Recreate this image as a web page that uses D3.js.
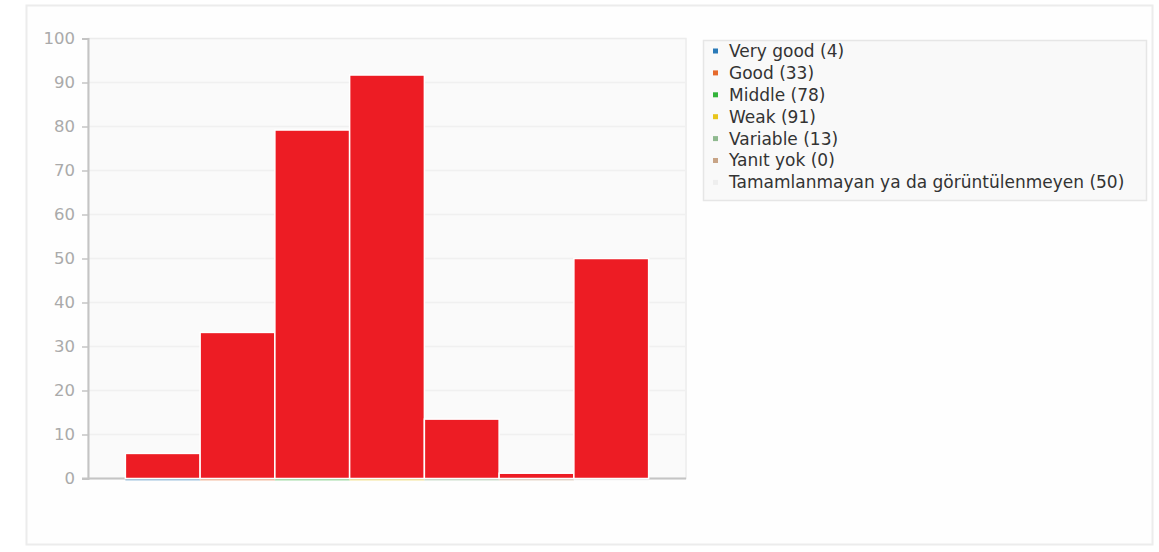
<!DOCTYPE html>
<html>
<head>
<meta charset="utf-8">
<script src="https://cdn.jsdelivr.net/npm/d3@7"></script>
<style>
  html, body { margin: 0; padding: 0; background: #ffffff; }
  svg { display: block; font-family: "DejaVu Sans", sans-serif; }
</style>
</head>
<body>
<svg id="chart" width="1159" height="552"></svg>
<script>
// ---- data ----
const categories = ["Very good", "Good", "Middle", "Weak", "Variable", "Yanıt yok", "Tamamlanmayan ya da görüntülenmeyen"];
const legendCounts = [4, 33, 78, 91, 13, 0, 50];
const barValues = [5.7, 33.2, 79.2, 91.7, 13.5, 1.2, 50];
const seriesColors = ["#2a7ab8", "#e66a2c", "#33b43a", "#e8c51c", "#8fb98f", "#c8a486", "#eeeeee"];
const yTicks = [0, 10, 20, 30, 40, 50, 60, 70, 80, 90, 100];
const barColor = "#ed1c24";

const svg = d3.select("#chart");

// outer panel
svg.append("rect")
  .attr("x", 26.5).attr("y", 5.5).attr("width", 1126).attr("height", 539)
  .attr("fill", "#fefefe").attr("stroke", "#ececec").attr("stroke-width", 2);

const plot = { left: 88, right: 686, top: 38.5, bottom: 478.5 };

// plot background
svg.append("rect")
  .attr("x", plot.left).attr("y", plot.top)
  .attr("width", plot.right - plot.left).attr("height", plot.bottom - plot.top)
  .attr("fill", "#fafafa").attr("stroke", "#ececec").attr("stroke-width", 1.5);

const x = d3.scaleBand().domain(categories).range([plot.left, plot.right]).paddingInner(0).paddingOuter(0.5);
const y = d3.scaleLinear().domain([0, 100]).range([plot.bottom, plot.top]);

// gridlines
svg.append("g").selectAll("line").data(yTicks.filter(d => d > 0 && d < 100)).join("line")
  .attr("x1", plot.left).attr("x2", plot.right)
  .attr("y1", d => y(d)).attr("y2", d => y(d))
  .attr("stroke", "#f0f0f0").attr("stroke-width", 1.5);

// y axis
const yAxis = d3.axisLeft(y).tickValues(yTicks).tickSize(6).tickPadding(7);
const gy = svg.append("g").attr("transform", `translate(${plot.left},0)`).call(yAxis);
gy.select(".domain").attr("stroke", "#c4c4c4").attr("stroke-width", 2);
gy.selectAll(".tick line").attr("stroke", "#c4c4c4").attr("stroke-width", 1.5);
gy.selectAll(".tick text").attr("fill", "#aaaaaa").attr("font-size", 16.5)
  .attr("font-family", "DejaVu Sans, sans-serif");

// bottom axis line
svg.append("line")
  .attr("x1", plot.left - 6).attr("x2", plot.right)
  .attr("y1", plot.bottom).attr("y2", plot.bottom)
  .attr("stroke", "#c4c4c4").attr("stroke-width", 2);

// colored underlines
svg.append("g").selectAll("line").data(categories).join("line")
  .attr("x1", d => x(d)).attr("x2", d => x(d) + x.bandwidth())
  .attr("y1", plot.bottom + 1).attr("y2", plot.bottom + 1)
  .attr("stroke", (d, i) => seriesColors[i]).attr("stroke-opacity", 0.45).attr("stroke-width", 2);

// bars
svg.append("g").selectAll("rect").data(categories).join("rect")
  .attr("x", d => x(d)).attr("width", x.bandwidth())
  .attr("y", (d, i) => y(barValues[i]))
  .attr("height", (d, i) => y(0) - y(barValues[i]))
  .attr("fill", barColor).attr("stroke", "#ffffff").attr("stroke-width", 1.5);

// legend
const lg = svg.append("g");
lg.append("rect")
  .attr("x", 703.5).attr("y", 40.5).attr("width", 443).attr("height", 160)
  .attr("fill", "#f9f9f9").attr("stroke", "#e6e6e6").attr("stroke-width", 1.5);
const items = lg.selectAll("g.item").data(categories).join("g").attr("class", "item")
  .attr("transform", (d, i) => `translate(0,${51 + i * 21.9})`);
items.append("rect")
  .attr("x", 713).attr("y", -2.5).attr("width", 5).attr("height", 5)
  .attr("fill", (d, i) => seriesColors[i]);
items.append("text")
  .attr("x", 729).attr("y", 0).attr("dy", "0.35em")
  .attr("font-size", 17).attr("fill", "#333333")
  .text((d, i) => `${d} (${legendCounts[i]})`);
</script>
</body>
</html>
